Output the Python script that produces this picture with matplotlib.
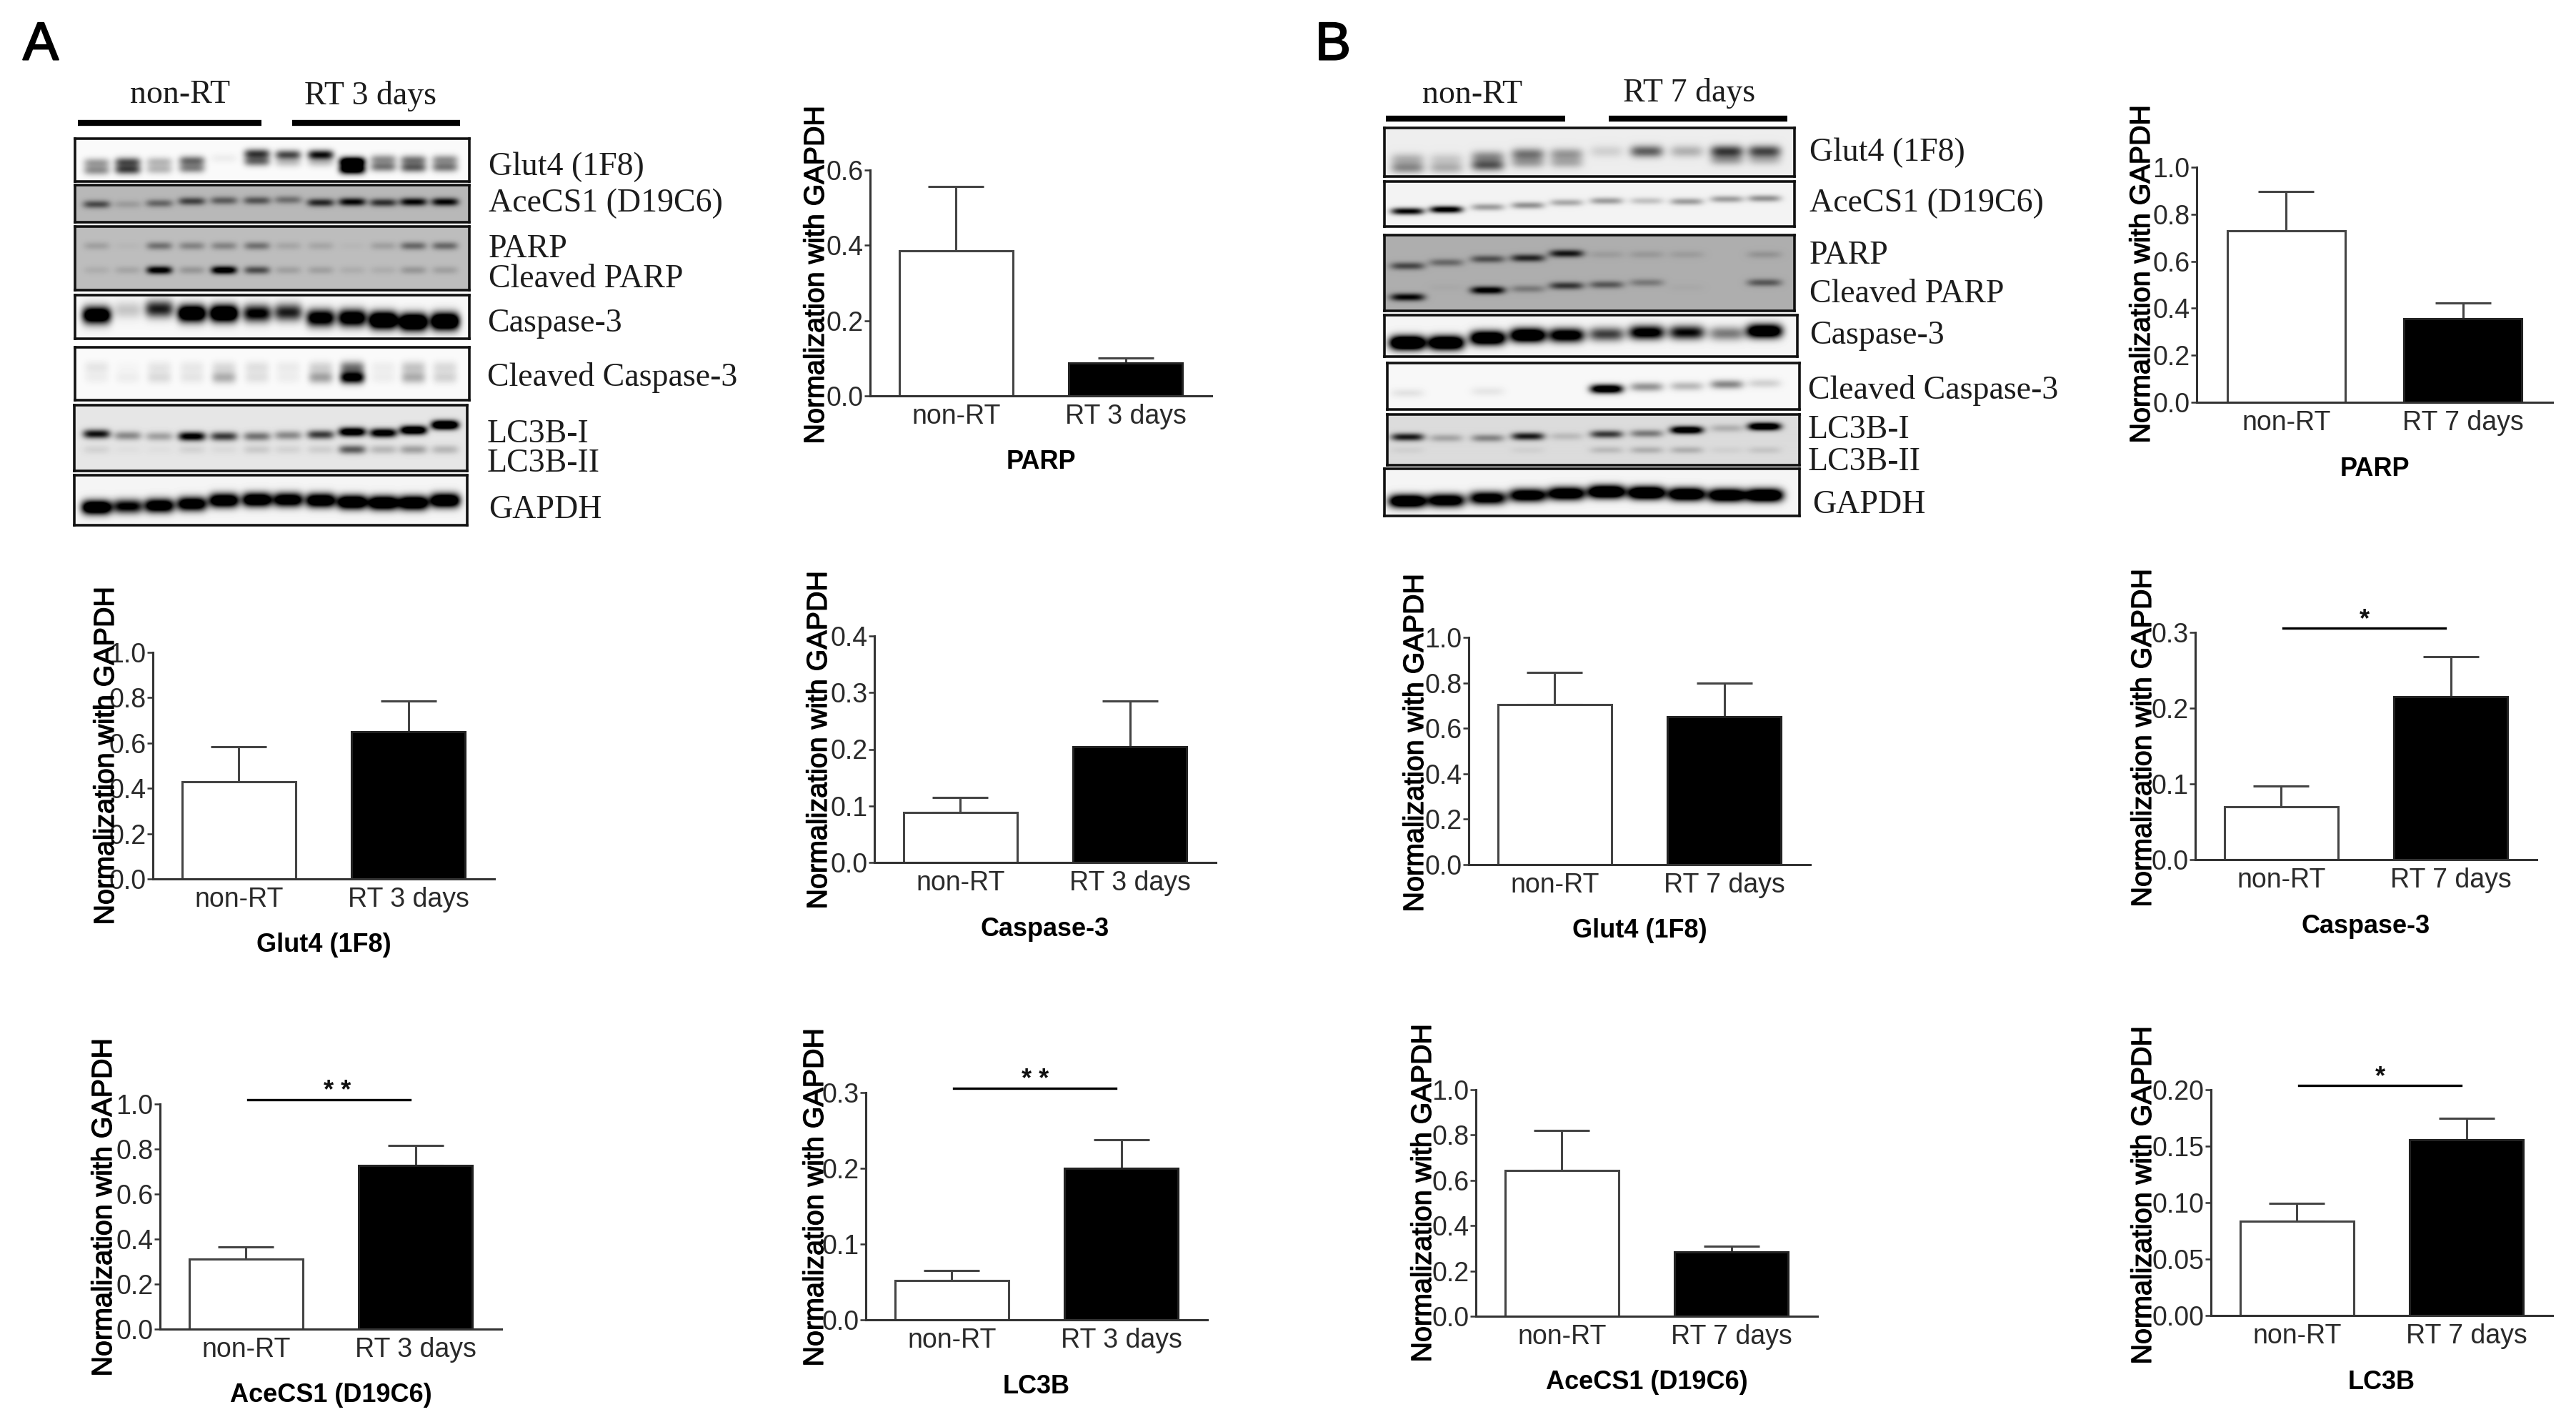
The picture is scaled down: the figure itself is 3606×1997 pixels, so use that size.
import matplotlib

matplotlib.use("Agg")
import matplotlib.patheffects as pe
import matplotlib.pyplot as plt
import numpy as np

W, H = 3606, 1997
plt.rcParams["font.family"] = ["Liberation Sans", "DejaVu Sans"]

GROUPS_A = ["non-RT", "RT 3 days"]
GROUPS_B = ["non-RT", "RT 7 days"]
TICKS_1 = [0.0, 0.2, 0.4, 0.6, 0.8, 1.0]
TICKS_06 = [0.0, 0.2, 0.4, 0.6]
TICKS_04 = [0.0, 0.1, 0.2, 0.3, 0.4]
TICKS_03 = [0.0, 0.1, 0.2, 0.3]
TICKS_02 = [0.00, 0.05, 0.10, 0.15, 0.20]

# bar heights and the top of each error bar
A_PARP = [0.385, 0.088]
A_PARP_TOP = [0.556, 0.101]
A_GLUT4 = [0.43, 0.65]
A_GLUT4_TOP = [0.585, 0.785]
A_CASP = [0.088, 0.205]
A_CASP_TOP = [0.115, 0.285]
A_ACE = [0.312, 0.728]
A_ACE_TOP = [0.366, 0.817]
A_LC3B = [0.052, 0.2]
A_LC3B_TOP = [0.065, 0.238]
B_PARP = [0.729, 0.356]
B_PARP_TOP = [0.898, 0.423]
B_GLUT4 = [0.705, 0.65]
B_GLUT4_TOP = [0.845, 0.80]
B_CASP = [0.07, 0.215]
B_CASP_TOP = [0.097, 0.268]
B_ACE = [0.645, 0.285]
B_ACE_TOP = [0.82, 0.31]
B_LC3B = [0.0834, 0.156]
B_LC3B_TOP = [0.0993, 0.175]

# band strength per lane, 1 and above is a saturated black band
A_GLUT4_UP = [0.35, 0.65, 0.25, 0.55, 0.05, 0.75, 0.7, 0.95, 1.4, 0.4, 0.5, 0.4]
A_GLUT4_LOW = [0.4, 0.7, 0.25, 0.45, 0.0, 0.55, 0.2, 0.2, 1.3, 0.5, 0.6, 0.5]
A_ACE_BAND = [0.6, 0.15, 0.45, 0.65, 0.5, 0.55, 0.4, 0.8, 1.0, 0.75, 1.0, 1.0]
A_PARP_UP = [0.15, 0.03, 0.4, 0.3, 0.3, 0.4, 0.12, 0.12, 0.03, 0.15, 0.45, 0.45]
A_PARP_LOW = [0.08, 0.12, 1.1, 0.2, 1.2, 0.6, 0.15, 0.15, 0.08, 0.08, 0.2, 0.15]
A_CASP_BAND = [1.5, 0.2, 0.9, 1.6, 1.7, 1.1, 0.9, 1.3, 1.4, 1.8, 1.8, 1.8]
A_CLCASP_UP = [0.08, 0.02, 0.08, 0.07, 0.12, 0.1, 0.06, 0.15, 0.5, 0.05, 0.2, 0.12]
A_CLCASP_LOW = [0.05, 0.05, 0.12, 0.08, 0.3, 0.1, 0.05, 0.35, 1.2, 0.05, 0.3, 0.15]
A_LC3_I = [0.95, 0.4, 0.3, 1.1, 0.75, 0.5, 0.4, 0.75, 1.3, 1.2, 1.4, 1.6]
A_LC3_II = [0.08, 0.03, 0.03, 0.08, 0.05, 0.12, 0.08, 0.1, 0.6, 0.2, 0.3, 0.2]
A_GAPDH = [1.6, 1.1, 1.4, 1.4, 1.5, 1.5, 1.4, 1.5, 1.6, 1.6, 1.6, 1.6]
B_GLUT4_UP = [0.25, 0.15, 0.4, 0.5, 0.35, 0.12, 0.6, 0.25, 0.75, 0.7]
B_GLUT4_LOW = [0.4, 0.25, 0.6, 0.3, 0.25, 0.0, 0.0, 0.0, 0.3, 0.2]
B_ACE_BAND = [1.0, 1.1, 0.35, 0.4, 0.3, 0.35, 0.2, 0.35, 0.35, 0.4]
B_PARP_UP = [0.6, 0.4, 0.55, 0.8, 0.9, 0.1, 0.12, 0.1, 0.0, 0.15]
B_PARP_LOW = [1.0, 0.03, 1.1, 0.3, 0.7, 0.5, 0.3, 0.03, 0.0, 0.5]
B_CASP_BAND = [1.8, 1.7, 1.6, 1.6, 1.3, 0.75, 1.2, 1.0, 0.5, 1.5]
B_CLCASP_BAND = [0.08, 0.0, 0.07, 0.0, 0.0, 1.3, 0.4, 0.25, 0.45, 0.15]
B_LC3_I = [0.9, 0.25, 0.4, 0.9, 0.15, 0.75, 0.45, 1.3, 0.2, 1.4]
B_LC3_II = [0.05, 0.0, 0.0, 0.05, 0.0, 0.15, 0.2, 0.2, 0.05, 0.1]
B_GAPDH = [1.6, 1.4, 1.3, 1.4, 1.5, 1.7, 1.7, 1.6, 1.6, 1.7]


def px_axes(fig, left, top, right, bottom):
    return fig.add_axes([left / W, 1 - bottom / H, (right - left) / W, (bottom - top) / H])


def px_text(fig, x, y, text, **kw):
    kw.setdefault("va", "center")
    kw.setdefault("color", "#1c1c1c")
    return fig.text(x / W, 1 - y / H, text, **kw)


def bar_panel(fig, left, top, right, bottom, groups, means, tops, ticks, fmt, title,
              label_x, label_y, sig=None, sig_x=0.49):
    ax = px_axes(fig, left, top, right, bottom)
    x = [0, 1]
    ax.bar(x, means, width=0.671, color=["white", "black"], edgecolor=["#444444", "#222222"],
           linewidth=2.2, zorder=2)
    upper = [t - m for t, m in zip(tops, means)]
    for xi, m, u in zip(x, means, upper):
        ax.errorbar(xi, m, yerr=[[0], [u]], color="#444444", elinewidth=2.2, capsize=28,
                    capthick=2.2, zorder=1)
    ax.set_xlim(-0.508, 1.508)
    ax.set_ylim(0, ticks[-1])
    ax.set_yticks(ticks)
    ax.set_yticklabels([fmt % t for t in ticks])
    ax.set_xticks(x)
    ax.set_xticklabels(groups)
    ax.tick_params(axis="y", labelsize=27, length=6, width=1.8, pad=1, color="#333333",
                   labelcolor="#2a2a2a")
    ax.tick_params(axis="x", labelsize=27, length=0, pad=8, labelcolor="#2a2a2a")
    ax.spines[["top", "right"]].set_visible(False)
    ax.spines[["left", "bottom"]].set_linewidth(2.2)
    ax.spines[["left", "bottom"]].set_color("#333333")
    ax.patch.set_alpha(0)
    t = px_text(fig, label_x + 4, label_y, "Normalization with GAPDH", rotation=90, ha="center",
                fontsize=28.4, color="black")
    t.set_path_effects([pe.withStroke(linewidth=0.9, foreground="black")])
    px_text(fig, (left + right) / 2, bottom + 93, title, ha="center", fontsize=26,
            fontweight="bold", color="black")
    if sig:
        level = ticks[-1] * 1.018
        ax.plot([0.01, 0.97], [level, level], color="black", lw=2.4, clip_on=False)
        ax.annotate(sig, (sig_x, level), xytext=(0, -4), textcoords="offset points",
                    ha="center", va="bottom", fontsize=26, fontweight="bold", color="#111111",
                    annotation_clip=False)


def blot(fig, frame, lanes, background, rows, half_width, x0, line=2.6):
    # frame is left, top, right, bottom in reference pixels
    left, top, right, bottom = frame
    xs = np.arange(left, right) + 0.5
    ys = np.arange(top, bottom) + 0.5
    xx, yy = np.meshgrid(xs, ys)
    ink = np.zeros_like(xx)
    for amps, row_y, shifts, sigma in rows:
        for lane, amp, shift in zip(lanes, amps, shifts):
            lane_x = x0 + lane * 1100 / 1568
            lane_y = (row_y + shift) * 760 / 1568
            across = np.exp(-(np.abs(xx - lane_x) / half_width) ** 4)
            ink += amp * across * np.exp(-0.5 * ((yy - lane_y) / sigma) ** 2)
    image = background * (1 - np.clip(ink, 0, 1))
    ax = px_axes(fig, left, top, right, bottom)
    ax.imshow(image, cmap="gray", vmin=0, vmax=1, aspect="auto", interpolation="bilinear")
    ax.set_xticks([])
    ax.set_yticks([])
    for spine in ax.spines.values():
        spine.set_linewidth(line)
        spine.set_color("#111111")


def main() -> None:
    fig = plt.figure(figsize=(W / 100, H / 100), dpi=100, facecolor="white")

    # panel A blots
    lanes_a = [193, 255, 318, 383, 447, 513, 575, 640, 703, 765, 825, 888]
    flat_a = [0] * 12
    glut_shift = [8, 6, 5, 2, -5, -18, -15, -15, 5, -2, 0, -1]
    ace_shift = [5, 5, 2, -4, -6, -6, -8, 0, -2, 0, -2, -2]
    casp_shift = [0, -15, -18, -5, -5, -5, -8, 8, 8, 15, 20, 18]
    lc3_shift = [-2, 3, 5, 5, 5, 5, 2, 0, -8, -5, -13, -28]
    gapdh_shift = [15, 12, 10, 5, -5, -7, -7, -5, 0, 2, 2, -5]
    blot(fig, (105, 194, 657, 254), lanes_a, 0.98,
         [(A_GLUT4_UP, 462, glut_shift, 4.8), (A_GLUT4_LOW, 484, glut_shift, 4.8)], 18, 0)
    blot(fig, (105, 259, 657, 311), lanes_a, 0.72, [(A_ACE_BAND, 585, ace_shift, 4.0)], 19, 0)
    blot(fig, (105, 317, 657, 406), lanes_a, 0.74,
         [(A_PARP_UP, 710, flat_a, 4.0), (A_PARP_LOW, 780, flat_a, 4.0)], 18, 0)
    blot(fig, (105, 413, 657, 474), lanes_a, 0.97, [(A_CASP_BAND, 910, casp_shift, 8.5)], 20, 0)
    blot(fig, (105, 486, 657, 560), lanes_a, 0.98,
         [(A_CLCASP_UP, 1060, flat_a, 6.0), (A_CLCASP_LOW, 1090, flat_a, 6.0)], 17, 0)
    blot(fig, (104, 567, 654, 659), lanes_a, 0.9,
         [(A_LC3_I, 1255, lc3_shift, 4.5), (A_LC3_II, 1298, flat_a, 4.5)], 19, 0)
    blot(fig, (104, 665, 654, 735), lanes_a, 0.96, [(A_GAPDH, 1450, gapdh_shift, 7.0)], 21, 0)

    # panel B blots
    lanes_b = [243, 320, 403, 483, 560, 640, 720, 800, 880, 955]
    flat_b = [0] * 10
    b_glut_shift = [15, 15, 8, 0, 0, -8, -8, -8, -8, -8]
    b_ace_shift = [25, 20, 13, 8, 0, -5, -5, -3, -10, -12]
    b_parp_up = [18, 8, -2, -5, -18, -15, -15, -15, 0, -15]
    b_parp_low = [28, 0, 8, 4, -5, -8, -14, 0, 0, -14]
    b_casp_shift = [22, 22, 8, 0, 0, -3, -8, -8, -5, -12]
    b_cl_shift = [20, 0, 15, 0, 0, 8, 2, 0, -5, -8]
    b_lc3_shift = [5, 8, 8, 3, 3, -3, -5, -15, -20, -25]
    b_gapdh_shift = [12, 10, 3, -5, -10, -15, -12, -8, -5, -5]
    blot(fig, (1938, 179, 2512, 247), lanes_b, 0.93,
         [(B_GLUT4_UP, 445, b_glut_shift, 6.0), (B_GLUT4_LOW, 470, b_glut_shift, 5.5)], 23, 1800)
    blot(fig, (1938, 254, 2512, 317), lanes_b, 0.95, [(B_ACE_BAND, 585, b_ace_shift, 3.5)], 23, 1800)
    blot(fig, (1938, 329, 2512, 435), lanes_b, 0.68,
         [(B_PARP_UP, 750, b_parp_up, 3.8), (B_PARP_LOW, 830, b_parp_low, 3.8)], 24, 1800)
    blot(fig, (1938, 441, 2516, 499), lanes_b, 0.96, [(B_CASP_BAND, 968, b_casp_shift, 7.0)], 25, 1800)
    blot(fig, (1942, 508, 2519, 573), lanes_b, 0.97, [(B_CLCASP_BAND, 1115, b_cl_shift, 4.5)], 23, 1800)
    blot(fig, (1942, 580, 2519, 651), lanes_b, 0.86,
         [(B_LC3_I, 1258, b_lc3_shift, 3.8), (B_LC3_II, 1300, flat_b, 3.5)], 23, 1800)
    blot(fig, (1938, 656, 2519, 722), lanes_b, 0.96, [(B_GAPDH, 1435, b_gapdh_shift, 6.5)], 26, 1800)

    serif = {"family": ["Liberation Serif", "DejaVu Serif"], "fontsize": 33}
    for x, y, s in [
        (684, 234, "Glut4 (1F8)"), (684, 285, "AceCS1 (D19C6)"), (684, 349, "PARP"),
        (684, 391, "Cleaved PARP"), (682, 453, "Caspase-3"), (682, 528, "Cleaved Caspase-3"),
        (682, 608, "LC3B-I"), (682, 649, "LC3B-II"), (684, 714, "GAPDH"),
        (2533, 214, "Glut4 (1F8)"), (2533, 285, "AceCS1 (D19C6)"), (2533, 358, "PARP"),
        (2533, 412, "Cleaved PARP"), (2533, 470, "Caspase-3"), (2531, 547, "Cleaved Caspase-3"),
        (2531, 602, "LC3B-I"), (2531, 647, "LC3B-II"), (2537, 707, "GAPDH"),
    ]:
        px_text(fig, x, y, s, **serif)
    for x, y, s in [(252, 133, "non-RT"), (519, 135, "RT 3 days"), (2061, 133, "non-RT"),
                    (2365, 130, "RT 7 days")]:
        px_text(fig, x, y, s, ha="center", **serif)

    # group bars above the blots
    bar_ax = fig.add_axes([0, 0, 1, 1])
    bar_ax.set_xlim(0, W)
    bar_ax.set_ylim(H, 0)
    bar_ax.axis("off")
    bar_ax.patch.set_alpha(0)
    for x1, x2, y in [(109, 366, 172), (409, 644, 172), (1940, 2191, 166), (2252, 2502, 166)]:
        bar_ax.plot([x1, x2], [y, y], color="black", lw=6, solid_capstyle="butt")

    for x, s in [(57, "A"), (1866, "B")]:
        t = px_text(fig, x, 64, s, ha="center", fontsize=54, color="black")
        t.set_path_effects([pe.withStroke(linewidth=1.5, foreground="black")])

    # panel A bars
    bar_panel(fig, 1218, 238, 1696, 554, GROUPS_A, A_PARP, A_PARP_TOP, TICKS_06, "%.1f", "PARP", 1139, 385)
    bar_panel(fig, 214, 913, 692, 1230, GROUPS_A, A_GLUT4, A_GLUT4_TOP, TICKS_1, "%.1f", "Glut4 (1F8)", 145, 1058)
    bar_panel(fig, 1224, 890, 1702, 1207, GROUPS_A, A_CASP, A_CASP_TOP, TICKS_04, "%.1f", "Caspase-3", 1143, 1036)
    bar_panel(fig, 224, 1545, 702, 1860, GROUPS_A, A_ACE, A_ACE_TOP, TICKS_1, "%.1f", "AceCS1 (D19C6)", 142, 1690, "* *", 0.54)
    bar_panel(fig, 1212, 1529, 1690, 1847, GROUPS_A, A_LC3B, A_LC3B_TOP, TICKS_03, "%.1f", "LC3B", 1138, 1676, "* *")
    # panel B bars
    bar_panel(fig, 3075, 234, 3573, 563, GROUPS_B, B_PARP, B_PARP_TOP, TICKS_1, "%.1f", "PARP", 2995, 384)
    bar_panel(fig, 2056, 892, 2534, 1210, GROUPS_B, B_GLUT4, B_GLUT4_TOP, TICKS_1, "%.1f", "Glut4 (1F8)", 1978, 1040)
    bar_panel(fig, 3073, 885, 3551, 1203, GROUPS_B, B_CASP, B_CASP_TOP, TICKS_03, "%.1f", "Caspase-3", 2997, 1033, "*")
    bar_panel(fig, 2066, 1525, 2544, 1842, GROUPS_B, B_ACE, B_ACE_TOP, TICKS_1, "%.1f", "AceCS1 (D19C6)", 1989, 1670)
    bar_panel(fig, 3095, 1525, 3573, 1841, GROUPS_B, B_LC3B, B_LC3B_TOP, TICKS_02, "%.2f", "LC3B", 2997, 1673, "*")

    fig.savefig("out.png", dpi=100)
    plt.close(fig)


if __name__ == "__main__":
    main()
